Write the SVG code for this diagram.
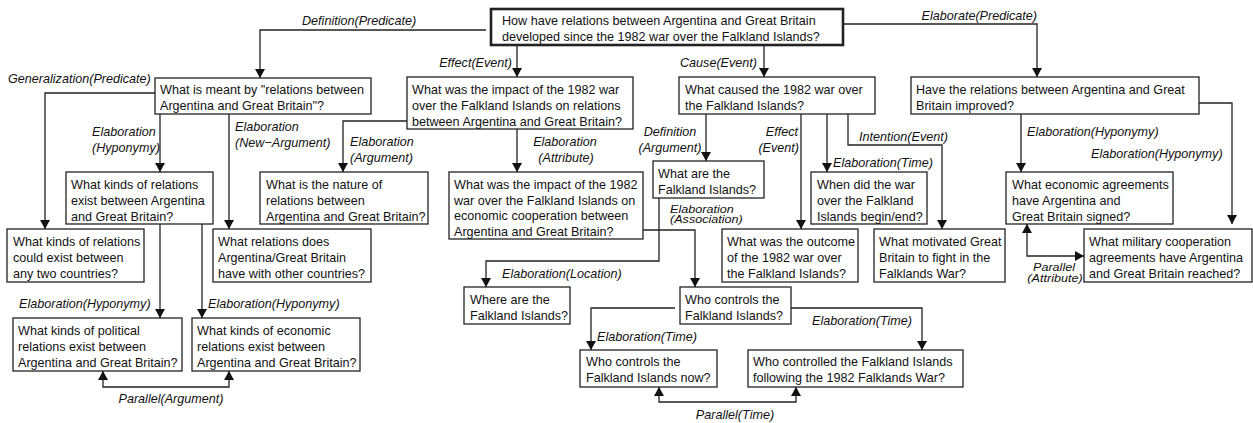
<svg xmlns="http://www.w3.org/2000/svg" width="1253" height="423" viewBox="0 0 1253 423">
<style>
  .n rect { fill:#fff; stroke:#222; stroke-width:1.3; }
  .n text, .lb text { font-family:"Liberation Sans", Arial, sans-serif; font-size:12.6px; fill:#111; }
  .lb text { font-style:italic; }
  .c path { fill:none; stroke:#222; stroke-width:1.3; }
  .root rect { stroke-width:2.6; }
  .m { text-anchor:middle; }
  .e { text-anchor:end; }
</style>
<defs>
  <marker id="ah" viewBox="0 -5 9 10" refX="9" refY="0" markerWidth="9" markerHeight="10" markerUnits="userSpaceOnUse" orient="auto-start-reverse">
    <path d="M0,-5 L9,0 L0,5 z" fill="#111"/>
  </marker>
</defs>
<rect width="1253" height="423" fill="#fff"/>

<g id="connectors" class="c">
  <path d="M486,30 H260 V78" marker-end="url(#ah)"/>
  <path d="M517,45 V77" marker-end="url(#ah)"/>
  <path d="M764,45 V77" marker-end="url(#ah)"/>
  <path d="M843,24 H1037 V77" marker-end="url(#ah)"/>
  <path d="M155,93 H45 V229" marker-end="url(#ah)"/>
  <path d="M160,114 V172" marker-end="url(#ah)"/>
  <path d="M229,114 V229" marker-end="url(#ah)"/>
  <path d="M407,121 H343 V172" marker-end="url(#ah)"/>
  <path d="M517,129 V172" marker-end="url(#ah)"/>
  <path d="M706,114 V161" marker-end="url(#ah)"/>
  <path d="M801,114 V229" marker-end="url(#ah)"/>
  <path d="M827,114 V172" marker-end="url(#ah)"/>
  <path d="M848,114 V145 H942 V229" marker-end="url(#ah)"/>
  <path d="M1021,114 V172" marker-end="url(#ah)"/>
  <path d="M1199,103 H1232 V224" marker-end="url(#ah)"/>
  <path d="M1027,224 V256 H1084" marker-start="url(#ah)" marker-end="url(#ah)"/>
  <path d="M643,230 H695 V287" marker-end="url(#ah)"/>
  <path d="M659,198 V261 H486 V287" marker-end="url(#ah)"/>
  <path d="M675,308 H591 V350" marker-end="url(#ah)"/>
  <path d="M791,308 H922 V350" marker-end="url(#ah)"/>
  <path d="M659,387 V402 H796 V387" marker-start="url(#ah)" marker-end="url(#ah)"/>
  <path d="M103,371 V387 H229 V371" marker-start="url(#ah)" marker-end="url(#ah)"/>
  <path d="M160,224 V318" marker-end="url(#ah)"/>
  <path d="M202,224 V318" marker-end="url(#ah)"/>
</g>

<g id="labels" class="lb">
  <text x="302" y="25">Definition(Predicate)</text>
  <text class="e" x="512" y="67">Effect(Event)</text>
  <text class="e" x="757" y="67">Cause(Event)</text>
  <text class="e" x="1037" y="20">Elaborate(Predicate)</text>
  <text x="8" y="83">Generalization(Predicate)</text>
  <text x="92" y="135.5">Elaboration</text>
  <text x="92" y="151.5">(Hyponymy)</text>
  <text x="235" y="130.5">Elaboration</text>
  <text x="235" y="146.5">(New−Argument)</text>
  <text x="350" y="146">Elaboration</text>
  <text x="350" y="161.5">(Argument)</text>
  <text class="m" x="565" y="146">Elaboration</text>
  <text class="m" x="566" y="161.5">(Attribute)</text>
  <text class="m" x="670" y="135.5">Definition</text>
  <text class="m" x="670" y="151.5">(Argument)</text>
  <text class="e" x="798" y="135.5">Effect</text>
  <text class="e" x="799" y="151.5">(Event)</text>
  <text x="833" y="166.5">Elaboration(Time)</text>
  <text x="859" y="140.5">Intention(Event)</text>
  <text x="1027" y="135.5">Elaboration(Hyponymy)</text>
  <text x="1091" y="157.5">Elaboration(Hyponymy)</text>
  <text class="m" transform="translate(1054,271) scale(1,0.85)">Parallel</text>
  <text class="m" transform="translate(1055,281.5) scale(1,0.85)">(Attribute)</text>
  <text transform="translate(670,212.5) scale(1,0.85)">Elaboration</text>
  <text transform="translate(670,223) scale(1,0.85)">(Association)</text>
  <text x="502" y="277.5">Elaboration(Location)</text>
  <text x="597" y="340.5">Elaboration(Time)</text>
  <text x="812" y="324.5">Elaboration(Time)</text>
  <text class="m" x="735" y="419">Parallel(Time)</text>
  <text class="m" x="171" y="403">Parallel(Argument)</text>
  <text x="19" y="307.5">Elaboration(Hyponymy)</text>
  <text x="208" y="307.5">Elaboration(Hyponymy)</text>
</g>

<g id="n-root" class="n root">
  <rect x="491" y="9" width="352" height="36"/>
  <text x="502" y="25">How have relations between Argentina and Great Britain</text>
  <text x="502" y="41">developed since the 1982 war over the Falkland Islands?</text>
</g>
<g id="n-meant" class="n">
  <rect x="155" y="78" width="216" height="36"/>
  <text x="160" y="93.5">What is meant by "relations between</text>
  <text x="160" y="109.5">Argentina and Great Britain"?</text>
</g>
<g id="n-impact1" class="n">
  <rect x="407" y="77" width="226" height="52"/>
  <text x="412" y="93.5">What was the impact of the 1982 war</text>
  <text x="412" y="109.5">over the Falkland Islands on relations</text>
  <text x="412" y="125.5">between Argentina and Great Britain?</text>
</g>
<g id="n-cause" class="n">
  <rect x="679" y="77" width="196" height="37"/>
  <text x="685" y="93.5">What caused the 1982 war over</text>
  <text x="685" y="109.5">the Falkland Islands?</text>
</g>
<g id="n-improved" class="n">
  <rect x="911" y="77" width="288" height="37"/>
  <text x="916" y="93.5">Have the relations between Argentina and Great</text>
  <text x="916" y="109.5">Britain improved?</text>
</g>
<g id="n-kinds" class="n">
  <rect x="66" y="172" width="147" height="52"/>
  <text x="71" y="188.5">What kinds of relations</text>
  <text x="71" y="204.5">exist between Argentina</text>
  <text x="71" y="220.5">and Great Britain?</text>
</g>
<g id="n-nature" class="n">
  <rect x="260" y="172" width="168" height="52"/>
  <text x="266" y="188.5">What is the nature of</text>
  <text x="266" y="204.5">relations between</text>
  <text x="266" y="220.5">Argentina and Great Britain?</text>
</g>
<g id="n-impact2" class="n">
  <rect x="449" y="172" width="194" height="67"/>
  <text x="454" y="188.5">What was the impact of the 1982</text>
  <text x="454" y="204.5">war over the Falkland Islands on</text>
  <text x="454" y="220">economic cooperation between</text>
  <text x="454" y="235.5">Argentina and Great Britain?</text>
</g>
<g id="n-whatare" class="n">
  <rect x="653" y="161" width="111" height="37"/>
  <text x="658" y="177.5">What are the</text>
  <text x="658" y="193.5">Falkland Islands?</text>
</g>
<g id="n-when" class="n">
  <rect x="811" y="172" width="116" height="52"/>
  <text x="817" y="188.5">When did the war</text>
  <text x="817" y="204.5">over the Falkland</text>
  <text x="817" y="220.5">Islands begin/end?</text>
</g>
<g id="n-econagree" class="n">
  <rect x="1006" y="172" width="167" height="52"/>
  <text x="1012" y="188.5">What economic agreements</text>
  <text x="1012" y="204.5">have Argentina and</text>
  <text x="1012" y="220.5">Great Britain signed?</text>
</g>
<g id="n-couldexist" class="n">
  <rect x="7" y="229" width="137" height="53"/>
  <text x="13" y="245.5">What kinds of relations</text>
  <text x="13" y="261.5">could exist between</text>
  <text x="13" y="277.5">any two countries?</text>
</g>
<g id="n-relationsdoes" class="n">
  <rect x="213" y="229" width="158" height="53"/>
  <text x="218" y="245.5">What relations does</text>
  <text x="218" y="261.5">Argentina/Great Britain</text>
  <text x="218" y="277.5">have with other countries?</text>
</g>
<g id="n-outcome" class="n">
  <rect x="722" y="229" width="136" height="53"/>
  <text x="727" y="245.5">What was the outcome</text>
  <text x="727" y="261.5">of the 1982 war over</text>
  <text x="727" y="277.5">the Falkland Islands?</text>
</g>
<g id="n-motivated" class="n">
  <rect x="874" y="229" width="131" height="53"/>
  <text x="879" y="245.5">What motivated Great</text>
  <text x="879" y="261.5">Britain to fight in the</text>
  <text x="879" y="277.5">Falklands War?</text>
</g>
<g id="n-military" class="n">
  <rect x="1084" y="229" width="168" height="53"/>
  <text x="1089" y="245.5">What military cooperation</text>
  <text x="1089" y="261.5">agreements have Argentina</text>
  <text x="1089" y="277.5">and Great Britain reached?</text>
</g>
<g id="n-where" class="n">
  <rect x="464" y="287" width="106" height="37"/>
  <text x="470" y="303.5">Where are the</text>
  <text x="470" y="319.5">Falkland Islands?</text>
</g>
<g id="n-whocontrols" class="n">
  <rect x="680" y="287" width="111" height="37"/>
  <text x="685" y="303.5">Who controls the</text>
  <text x="685" y="319.5">Falkland Islands?</text>
</g>
<g id="n-political" class="n">
  <rect x="13" y="318" width="169" height="53"/>
  <text x="18" y="335">What kinds of political</text>
  <text x="18" y="350.5">relations exist between</text>
  <text x="18" y="366.5">Argentina and Great Britain?</text>
</g>
<g id="n-economic" class="n">
  <rect x="192" y="318" width="168" height="53"/>
  <text x="197" y="335">What kinds of economic</text>
  <text x="197" y="350.5">relations exist between</text>
  <text x="197" y="366.5">Argentina and Great Britain?</text>
</g>
<g id="n-now" class="n">
  <rect x="580" y="350" width="137" height="37"/>
  <text x="586" y="366">Who controls the</text>
  <text x="586" y="382">Falkland Islands now?</text>
</g>
<g id="n-controlled" class="n">
  <rect x="748" y="350" width="215" height="37"/>
  <text x="753" y="366">Who controlled the Falkland Islands</text>
  <text x="753" y="382">following the 1982 Falklands War?</text>
</g>
</svg>
